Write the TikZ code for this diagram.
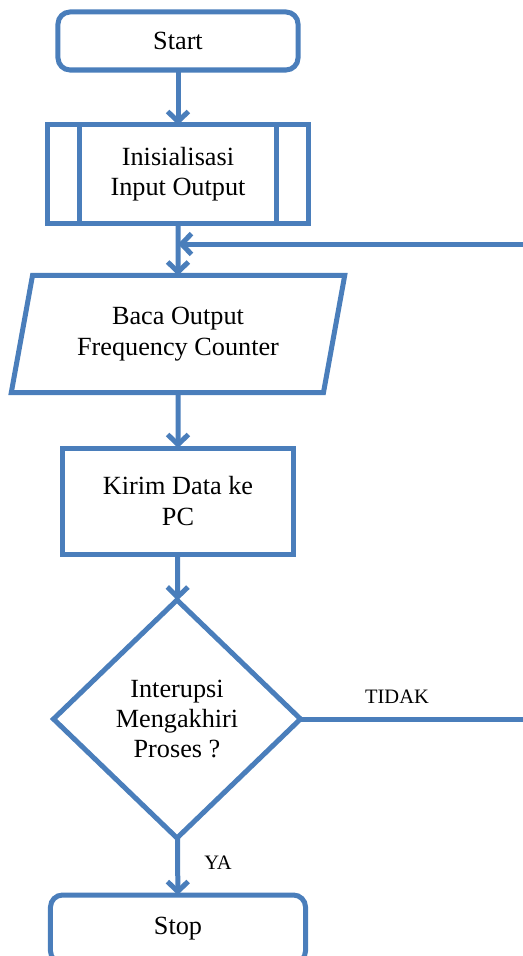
\documentclass[tikz,border=0pt]{standalone}
\usepackage{fontspec}
\setmainfont{Liberation Serif}
\usetikzlibrary{calc,shapes.geometric,arrows.meta}

\definecolor{flowblue}{HTML}{4A7EBB}

\begin{document}
\begin{tikzpicture}[x=0.03cm, y=-0.03cm, line width=0.15cm, draw=flowblue,
  every node/.style={font=\fontsize{22.4}{26}\selectfont, align=center, outer sep=0pt, text=black},
  terminal/.style={draw, rectangle, rounded corners=0.36cm, minimum width=7.2cm, minimum height=1.74cm},
  process/.style={draw, rectangle},
  io/.style={draw, trapezium, trapezium left angle=76, trapezium right angle=104,
    trapezium stretches=true, minimum width=10.02cm, minimum height=3.51cm},
  decision/.style={draw, diamond, minimum width=7.41cm, minimum height=7.14cm, inner sep=0pt},
  answer/.style={font=\fontsize{17.5}{20}\selectfont},
  flow/.style={-{Straight Barb[length=0.3cm, width=0.62cm]}}]

\useasboundingbox (0,0) rectangle (522,956);

% Start and initialisation
\node[terminal] (start) at (178,41) {Start};
\node[process, minimum width=7.83cm, minimum height=2.94cm] (init) at (178,174) {Inisialisasi\\Input Output};
\draw ($(init.north west)+(32,0)$) -- ($(init.south west)+(32,0)$);
\draw ($(init.north east)+(-32,0)$) -- ($(init.south east)+(-32,0)$);

% Read and send
\node[io] (baca) at (178,334) {Baca Output\\Frequency Counter};
\node[process, minimum width=6.9cm, minimum height=3.18cm] (kirim) at (178,501) {Kirim Data ke\\PC};

% Decision and end
\node[decision] (cek) at (177,719) {Interupsi\\Mengakhiri\\Proses ?};
\node[terminal, minimum width=7.65cm, minimum height=2.04cm] (stop) at (178,929) {Stop};

% Main flow
\draw[flow] (start) -- (init);
\draw[flow] (init) -- (baca);
\draw[flow] (baca) -- (kirim);
\draw[flow] (kirim) -- (cek);
\draw[flow] (cek) -- (stop);

% Loop back when not finished
\coordinate (loopin) at (178,244);
\coordinate (loopout) at (535,244);
\draw[flow] (cek.east) -- (cek.east -| loopout) -- (loopout) -- (loopin);

% Labels
\node[answer] (tidak) at (397,697) {TIDAK};
\node[answer] (ya) at (218,863) {YA};
\end{tikzpicture}
\end{document}
